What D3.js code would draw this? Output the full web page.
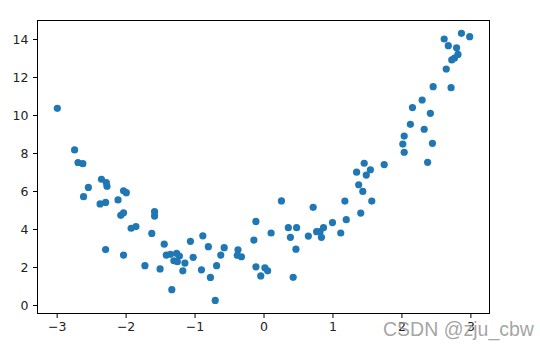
<!DOCTYPE html>
<html>
<head>
<meta charset="utf-8">
<script src="https://cdn.jsdelivr.net/npm/d3@7"></script>
<style>
  html, body { margin: 0; padding: 0; background: #fff; }
  svg { display: block; }
</style>
</head>
<body>
<svg id="chart" width="540" height="349"></svg>
<script>
const xValues = [
  -2.99, -2.74, -2.69, -2.62, -2.54, -2.61, -2.35, -2.28, -2.27, -2.37,
  -2.29, -2.11, -2.03, -1.99, -2.07, -2.03, -1.92, -1.85, -1.58, -1.58,
  -1.62, -2.29, -2.03, -1.72, -1.44, -1.41, -1.50, -1.35, -1.26, -1.22,
  -1.30, -1.25, -1.14, -1.17, -1.33, -1.06, -1.02, -0.88, -0.80, -0.90,
  -0.77, -0.70, -0.68, -0.62, -0.57, -0.37, -0.38, -0.32, -0.11, -0.14,
  -0.11, 0.02, 0.06, -0.04, 0.11,
  0.26, 0.36, 0.48, 0.39, 0.47, 0.43, 0.65, 0.72, 0.77, 0.82,
  0.84, 0.87, 1.00, 1.12, 1.20, 1.18, 1.41, 1.38, 1.44, 1.57,
  1.49, 1.35, 1.55, 1.46, 1.75, 2.38, 2.04, 2.02, 2.45, 2.04,
  2.33, 2.13, 2.42, 2.16, 2.30, 2.46, 2.72, 2.65, 2.73, 2.77,
  2.82, 2.80, 2.68, 2.62, 2.87, 2.99
];
const yValues = [
  10.35, 8.16, 7.50, 7.44, 6.19, 5.70, 6.62, 6.44, 6.25, 5.32,
  5.40, 5.53, 6.01, 5.91, 4.72, 4.85, 4.04, 4.13, 4.91, 4.68,
  3.77, 2.92, 2.63, 2.07, 3.20, 2.63, 1.90, 2.67, 2.72, 2.58,
  2.33, 2.28, 2.21, 1.80, 0.81, 3.35, 2.51, 3.64, 3.07, 1.85,
  1.45, 0.24, 2.07, 2.63, 3.02, 2.91, 2.62, 2.54, 4.40, 3.42,
  2.01, 1.96, 1.80, 1.53, 3.79,
  5.48, 4.07, 4.07, 3.56, 2.94, 1.46, 3.63, 5.14, 3.86, 3.86,
  3.56, 4.07, 4.34, 3.79, 4.49, 5.47, 4.84, 6.33, 5.98, 5.47,
  6.84, 6.99, 7.12, 7.46, 7.39, 7.51, 8.04, 8.47, 8.51, 8.89,
  9.25, 9.51, 10.09, 10.39, 10.79, 11.49, 11.44, 12.42, 12.90, 13.00,
  13.19, 13.54, 13.65, 14.00, 14.30, 14.12
];
const xTicks = [-3, -2, -1, 0, 1, 2, 3];
const yTicks = [0, 2, 4, 6, 8, 10, 12, 14];
const watermark = "CSDN @zju_cbw";

const points = xValues.map((x, i) => ({ x, y: yValues[i] }));

const svg = d3.select("#chart");
const L = 37, R = 489, T = 20, B = 313;

const x = d3.scaleLinear().domain([-3.285, 3.27]).range([L, R]);
const y = d3.scaleLinear().domain([-0.42, 15.0]).range([B, T]);

const fontFam = "'DejaVu Sans', sans-serif";

// points
svg.append("g")
  .selectAll("circle")
  .data(points)
  .enter()
  .append("circle")
  .attr("cx", d => x(d.x))
  .attr("cy", d => y(d.y))
  .attr("r", 3.6)
  .attr("fill", "#1f77b4");

const fmt = d => d < 0 ? "\u2212" + Math.abs(d) : String(d);

// x axis
const xAxis = svg.append("g")
  .attr("transform", `translate(0,${B + 0.5})`)
  .call(d3.axisBottom(x).tickValues(xTicks).tickFormat(fmt).tickSize(4.5).tickPadding(4.5));
xAxis.select(".domain").remove();
xAxis.selectAll("line").attr("stroke", "#000").attr("stroke-width", 1);
xAxis.selectAll("text").attr("font-family", fontFam).attr("font-size", "12.5px").attr("fill", "#222");

// y axis
const yAxis = svg.append("g")
  .attr("transform", `translate(${L + 0.5},0)`)
  .call(d3.axisLeft(y).tickValues(yTicks).tickFormat(fmt).tickSize(4.5).tickPadding(4.5));
yAxis.select(".domain").remove();
yAxis.selectAll("line").attr("stroke", "#000").attr("stroke-width", 1);
yAxis.selectAll("text").attr("font-family", fontFam).attr("font-size", "12.5px").attr("fill", "#222");

// frame
svg.append("rect")
  .attr("x", L + 0.5).attr("y", T + 0.5)
  .attr("width", R - L).attr("height", B - T)
  .attr("fill", "none").attr("stroke", "#000").attr("stroke-width", 1);

// watermark
svg.append("text")
  .attr("x", 383).attr("y", 336)
  .attr("font-family", "'Liberation Sans', Arial, sans-serif")
  .attr("font-size", "19.5px")
  .attr("fill", "#999999")
  .attr("fill-opacity", 0.9)
  .text(watermark);
</script>
</body>
</html>
